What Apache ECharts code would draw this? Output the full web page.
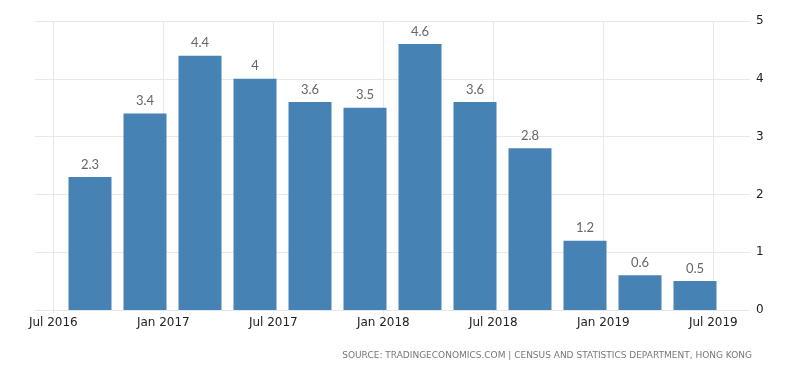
<!DOCTYPE html>
<html><head><meta charset="utf-8">
<script src="https://cdn.jsdelivr.net/npm/echarts@6/dist/echarts.min.js"></script>
<style>html,body{margin:0;padding:0;background:#fff}#c{width:800px;height:373px}</style>
</head><body><div id="c"></div>
<script>
// quarters (month index since Jan 2016: 8 = Sep 2016 ...)
var periods = ['2016-09','2016-12','2017-03','2017-06','2017-09','2017-12','2018-03','2018-06','2018-09','2018-12','2019-03','2019-06'];
var values = [2.3, 3.4, 4.4, 4, 3.6, 3.5, 4.6, 3.6, 2.8, 1.2, 0.6, 0.5];
var tickLabels = ['Jul 2016','Jan 2017','Jul 2017','Jan 2018','Jul 2018','Jan 2019','Jul 2019'];
var tickMonths = ['2016-07','2017-01','2017-07','2018-01','2018-07','2019-01','2019-07'];
var yTicks = [0,1,2,3,4,5];

function monthIndex(s){var p=s.split('-');return (parseInt(p[0])-2016)*12+(parseInt(p[1])-1);}
var tickVals = tickMonths.map(monthIndex);
var data = periods.map(function(p,i){return [monthIndex(p), values[i]];});

var chart = echarts.init(document.getElementById('c'));
chart.setOption({
  animation:false,
  grid:{left:35,right:50,top:21,bottom:63},
  xAxis:{type:'value',min:5,max:44,
    axisLine:{show:false},
    axisTick:{show:true,inside:false,length:3,customValues:tickVals,lineStyle:{color:'#e6e6e6'}},
    splitLine:{show:true,lineStyle:{color:'#e8e8e8',width:1}},
    axisLabel:{customValues:tickVals,color:'#222',fontFamily:'DejaVu Sans',fontSize:12,margin:7,
      formatter:function(v){var i=tickVals.indexOf(v);return i>=0?tickLabels[i]:'';}}
  },
  yAxis:{type:'value',position:'right',min:0,max:5,interval:1,
    axisLine:{show:false},axisTick:{show:false},
    splitLine:{lineStyle:{color:'#e8e8e8',width:1}},
    axisLabel:{color:'#222',fontFamily:'DejaVu Sans',fontSize:12,margin:6,
      formatter:function(v){return yTicks.indexOf(v)>=0?String(v):'';}}
  },
  series:[{type:'bar',data:data,barWidth:43,itemStyle:{color:'#4682b4'},
    label:{show:true,position:'top',distance:6,color:'#666',fontFamily:'Lato',fontSize:13,
      formatter:function(p){return String(p.value[1]);}}}],
  graphic:[{type:'text',right:48,top:351,style:{text:'SOURCE: TRADINGECONOMICS.COM | CENSUS AND STATISTICS DEPARTMENT, HONG KONG',
    fill:'#777',font:'9px "DejaVu Sans"'}}]
});
</script></body></html>
